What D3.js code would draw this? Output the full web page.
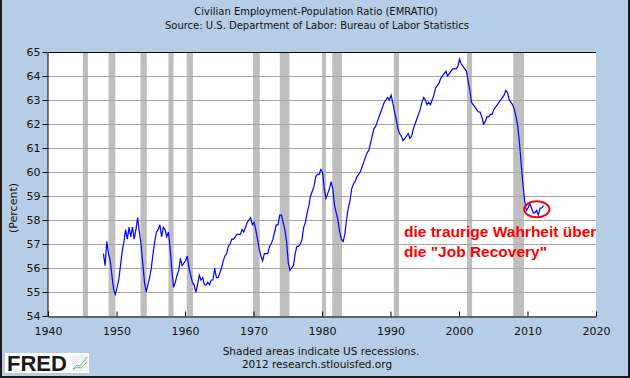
<!DOCTYPE html>
<html>
<head>
<meta charset="utf-8">
<script src="https://cdn.jsdelivr.net/npm/d3@7"></script>
<style>
  body { margin: 0; background: #fff; }
  svg { display: block; }
</style>
</head>
<body>
<div id="chart"><svg width="630" height="378"></svg></div>
<script>
// EMRATIO, quarterly, starting 1948 Q1
const startYear = 1948;
const ratio = [
  56.6, 56.1, 57.1, 56.6,  // 1948
  56.3, 55.7, 55.1, 54.9,
  55.2, 55.5, 56.1, 56.7,  // 1950
  57.1, 57.6, 57.2, 57.7,
  57.3, 57.7, 57.2, 57.6,
  58.1, 57.5, 57.0, 56.2,
  55.4, 55.0, 55.3, 55.6,
  56.0, 56.6, 57.1, 57.5,
  57.6, 57.8, 57.3, 57.7,
  57.6, 57.3, 57.5, 56.8,
  55.9, 55.2, 55.4, 55.7,
  55.9, 56.4, 56.1, 56.2,
  56.3, 56.5, 56.0, 55.7,  // 1960
  55.4, 55.3, 55.0, 55.3,
  55.7, 55.5, 55.6, 55.3,
  55.3, 55.4, 55.3, 55.5,
  55.5, 56.0, 55.6, 55.6,
  55.8, 56.0, 56.3, 56.5,
  56.6, 56.9, 57.0, 57.2,
  57.2, 57.3, 57.4, 57.4,
  57.4, 57.6, 57.5, 57.7,
  57.9, 58.0, 58.1, 57.8,
  57.9, 57.6, 57.2, 56.8,  // 1970
  56.5, 56.3, 56.6, 56.6,
  56.6, 56.9, 57.0, 57.2,
  57.5, 57.8, 57.8, 58.2,
  58.2, 57.9, 57.6, 57.1,
  56.2, 55.9, 56.0, 56.1,
  56.6, 56.9, 56.9, 57.0,
  57.2, 57.7, 57.9, 58.3,
  58.6, 59.0, 59.2, 59.4,
  59.8, 59.9, 59.9, 60.1,
  60.0, 59.3, 58.9, 59.1,  // 1980
  59.3, 59.6, 59.3, 58.6,
  58.3, 58.0, 57.5, 57.2,
  57.1, 57.4, 58.0, 58.5,
  58.8, 59.3, 59.5, 59.6,
  59.8, 59.9, 60.0, 60.2,
  60.4, 60.6, 60.8, 60.9,
  61.2, 61.5, 61.8, 61.9,
  62.1, 62.3, 62.5, 62.7,
  62.9, 63.0, 63.1, 63.0,
  63.2, 62.9, 62.5, 62.2,  // 1990
  61.8, 61.6, 61.5, 61.3,
  61.4, 61.5, 61.6, 61.4,
  61.5, 61.8, 62.0, 62.2,
  62.4, 62.6, 62.9, 63.1,
  63.0, 62.8, 62.9, 62.8,
  63.0, 63.2, 63.5, 63.6,
  63.7, 63.9, 64.0, 64.1,
  64.2, 64.0, 64.1, 64.2,
  64.3, 64.3, 64.3, 64.4,
  64.7, 64.5, 64.4, 64.3,  // 2000
  64.2, 63.8, 63.4, 62.9,
  62.8, 62.7, 62.6, 62.5,
  62.5, 62.3, 62.0, 62.1,
  62.3, 62.3, 62.4, 62.4,
  62.6, 62.7, 62.8, 62.9,
  63.0, 63.1, 63.2, 63.4,
  63.3, 63.0, 62.9, 62.8,
  62.6, 62.3, 61.9, 61.2,
  60.3, 59.5, 58.8, 58.4,
  58.5, 58.7, 58.5, 58.3,  // 2010
  58.3, 58.4, 58.2, 58.5,
  58.5, 58.6
];

// NBER recessions, first and last month
const recStart = ["1945-02", "1948-11", "1953-07", "1957-08", "1960-04", "1969-12",
                  "1973-11", "1980-01", "1981-07", "1990-07", "2001-03", "2007-12"];
const recEnd   = ["1945-10", "1949-10", "1954-05", "1958-04", "1961-02", "1970-11",
                  "1975-03", "1980-07", "1982-11", "1991-03", "2001-11", "2009-06"];

const yearTicks = [1940, 1950, 1960, 1970, 1980, 1990, 2000, 2010, 2020];
const pctTicks = [54, 55, 56, 57, 58, 59, 60, 61, 62, 63, 64, 65];

const title = "Civilian Employment-Population Ratio (EMRATIO)";
const subtitle = "Source: U.S. Department of Labor: Bureau of Labor Statistics";
const note = ["die traurige Wahrheit über", "die \"Job Recovery\""];

const svg = d3.select("#chart svg"),
      width = +svg.attr("width"),
      height = +svg.attr("height");
const margin = {top: 52, right: 34, bottom: 62, left: 48};
const font = "'DejaVu Sans', Verdana, sans-serif";

const parseMonth = d3.timeParse("%Y-%m");
const series = ratio.map((v, i) => ({
  date: d3.timeMonth.offset(new Date(startYear, 0, 1), i * 3 + 1),
  value: v
}));

const x = d3.scaleTime()
  .domain([new Date(1940, 0, 1), new Date(2020, 0, 1)])
  .range([margin.left, width - margin.right]);
const y = d3.scaleLinear()
  .domain([54, 65])
  .range([height - margin.bottom, margin.top]);

// background + frame
svg.append("rect").attr("width", width).attr("height", height).attr("fill", "#b5cde5");
svg.append("path")
  .attr("d", `M1,0V${height - 1}H${width - 1}V0`)
  .attr("fill", "none").attr("stroke", "#1a1a1a").attr("stroke-width", 2);

svg.append("rect")
  .attr("x", margin.left).attr("y", margin.top)
  .attr("width", width - margin.left - margin.right)
  .attr("height", height - margin.top - margin.bottom)
  .attr("fill", "#fff");

// recession shading
svg.append("g").selectAll("rect")
  .data(recStart.map((s, i) => [parseMonth(s), d3.timeMonth.offset(parseMonth(recEnd[i]), 1)]))
  .join("rect")
  .attr("x", d => x(d[0]))
  .attr("width", d => x(d[1]) - x(d[0]))
  .attr("y", margin.top)
  .attr("height", height - margin.top - margin.bottom)
  .attr("fill", "#bebebe");

// gridlines
svg.append("g").selectAll("line")
  .data(pctTicks.slice(1))
  .join("line")
  .attr("x1", margin.left).attr("x2", width - margin.right)
  .attr("y1", d => Math.round(y(d)) + 0.5).attr("y2", d => Math.round(y(d)) + 0.5)
  .attr("stroke", d => d === 65 ? "#000" : "#a6a6a6");

// line
const line = d3.line().x(d => x(d.date)).y(d => y(d.value));
svg.append("path")
  .datum(series)
  .attr("d", line)
  .attr("fill", "none")
  .attr("stroke", "#0000ff")
  .attr("stroke-width", 1.2);

// axes
const xAxis = svg.append("g")
  .attr("transform", `translate(0,${height - margin.bottom + 0.5})`)
  .call(d3.axisBottom(x)
    .tickValues(yearTicks.map(t => new Date(t, 0, 1)))
    .tickFormat(d3.timeFormat("%Y"))
    .tickSizeInner(-5).tickSizeOuter(0).tickPadding(11));
const yAxis = svg.append("g")
  .attr("transform", `translate(${margin.left - 0.5},0)`)
  .call(d3.axisLeft(y).tickValues(pctTicks).tickSizeInner(5).tickSizeOuter(0).tickPadding(2));

[xAxis, yAxis].forEach(g => {
  g.selectAll("text").style("font-family", font).style("font-size", "11px").attr("fill", "#111");
  g.selectAll("line, path").attr("stroke", "#000");
});

svg.append("text")
  .attr("transform", `translate(17,208) rotate(-90)`)
  .attr("text-anchor", "middle")
  .style("font-family", font).style("font-size", "11px")
  .attr("fill", "#111")
  .text("(Percent)");

// titles
svg.append("text").attr("x", 316).attr("y", 15).attr("text-anchor", "middle")
  .style("font-family", font).style("font-size", "10px").attr("fill", "#111").text(title);
svg.append("text").attr("x", 317).attr("y", 29).attr("text-anchor", "middle")
  .style("font-family", font).style("font-size", "10px").attr("fill", "#111").text(subtitle);

// footer
svg.append("text").attr("x", 321).attr("y", 355).attr("text-anchor", "middle")
  .style("font-family", font).style("font-size", "10.5px").attr("fill", "#111")
  .text("Shaded areas indicate US recessions.");
svg.append("text").attr("x", 317).attr("y", 368).attr("text-anchor", "middle")
  .style("font-family", font).style("font-size", "10.5px").attr("fill", "#111")
  .text("2012 research.stlouisfed.org");

// FRED logo
const logo = svg.append("g").attr("transform", "translate(5,353)");
logo.append("rect").attr("width", 84).attr("height", 20).attr("fill", "#fff");
logo.append("text").attr("x", 2).attr("y", 18)
  .style("font-family", "'Liberation Sans', Arial, sans-serif")
  .style("font-size", "22px").style("font-weight", "bold")
  .attr("fill", "#1a1a1a").text("FRED");
logo.append("rect").attr("x", 67).attr("y", 2).attr("width", 16).attr("height", 16)
  .attr("fill", "#eef0f2");
logo.append("path").attr("d", "M68,16 L72,12 L75,13 L79,8 L82,4")
  .attr("fill", "none").attr("stroke", "#7cb0d8").attr("stroke-width", 1);
logo.append("path").attr("d", "M68,17 L72,14 L76,15 L80,11 L82,9")
  .attr("fill", "none").attr("stroke", "#8cc063").attr("stroke-width", 1);

// annotation
const ann = svg.append("g")
  .style("font-family", "'Liberation Sans', Arial, sans-serif")
  .style("font-size", "15.5px").style("font-weight", "bold")
  .attr("fill", "#ff0000");
note.forEach((t, i) => ann.append("text").attr("x", 404).attr("y", 237 + i * 20).text(t));

const last = series.slice(-10);
const ex = d3.extent(last, d => x(d.date)), ey = d3.extent(last, d => y(d.value));
svg.append("ellipse")
  .attr("cx", (ex[0] + ex[1]) / 2 + 1).attr("cy", (ey[0] + ey[1]) / 2)
  .attr("rx", (ex[1] - ex[0]) / 2 + 5).attr("ry", 8)
  .attr("fill", "none").attr("stroke", "#ff0000").attr("stroke-width", 2);
</script>
</body>
</html>
